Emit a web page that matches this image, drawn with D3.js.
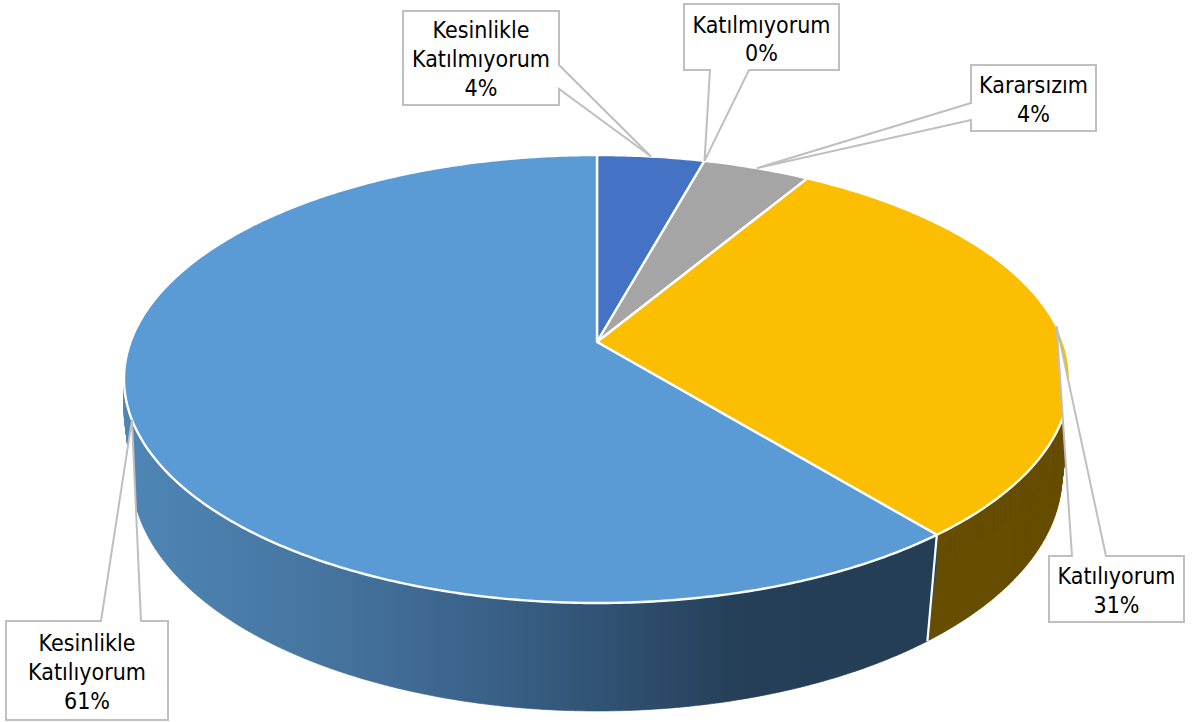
<!DOCTYPE html>
<html><head><meta charset="utf-8">
<script src="https://cdn.jsdelivr.net/npm/d3@7"></script>
<style>html,body{margin:0;background:#fff}svg{display:block}
text{font-family:"DejaVu Sans";font-stretch:condensed;font-size:23px;fill:#000;text-anchor:middle}</style>
</head><body><svg id="c" width="1192" height="722"></svg>
<script>
const categories=["Kesinlikle Katılmıyorum","Katılmıyorum","Kararsızım","Katılıyorum","Kesinlikle Katılıyorum"];
const values=[4.3,0,4.3,30.4,60.9];
const percentLabels=["4%","0%","4%","31%","61%"];
const topColors=["#4472C4","#ED7D31","#A5A5A5","#FBBE00","#5B9BD5"];
const sideColors=["#294476","#8E4B1D","#636363","#664D00","url(#sideBlue)"];

const svg=d3.select("#c");
// perspective projection of a disc: centre height, depth factor, horizontal and vertical radii
function disc(cx,cy,k,a,b){
  const X=d3.scaleLinear().domain([-1,1]).range([cx-a,cx+a]);
  const Y=d3.scaleLinear().domain([-1,1]).range([cy-b,cy+b]);
  return t=>{const x=Math.sin(t),y=-Math.cos(t),w=1+k*y;return [X(x/w),Y(y/w)];};
}
const apex=[597,342];
const topP=disc(apex[0],apex[1],-0.1652,466.5,217.9);
const midP=disc(apex[0],apex[1]+30,-0.1652,466.5,217.9);
const botP=disc(apex[0],439.6,-0.15,459.7,230.7);

const pie=d3.pie().sort(null).value(d=>d)(values);
const line=d3.line();
const samples=(a,b)=>{const n=Math.max(2,Math.ceil((b-a)/0.01));return d3.range(n+1).map(i=>a+(b-a)*i/n);};

const grad=svg.append("defs").append("linearGradient").attr("id","sideBlue")
  .attr("gradientUnits","userSpaceOnUse").attr("x1",125).attr("x2",930).attr("y1",0).attr("y2",0);
[[0,"#4F86B5"],[0.255,"#45749F"],[0.5,"#375C82"],[0.77,"#243F57"],[1,"#233E55"]]
  .forEach(([o,c])=>grad.append("stop").attr("offset",o).attr("stop-color",c));

// sides: each small step of the rim is its own quad, so overlaps cannot cancel
const sides=svg.append("g");
pie.forEach((s,i)=>{
  if(s.value===0) return;
  const a=samples(s.startAngle,s.endAngle);
  let d="";
  [[topP,midP],[midP,botP]].forEach(([p,q])=>{
    d3.pairs(a).forEach(([u,v])=>{
      const quad=[p(u),p(v),q(v),q(u)];
      if(d3.polygonArea(quad)<0) quad.reverse();
      d+=line(quad)+"Z";
    });
  });
  sides.append("path").attr("d",d).attr("fill",sideColors[i]).attr("stroke",sideColors[i]).attr("stroke-width",0.6);
});
const seam=pie[3].endAngle;
sides.append("path").attr("d",line([topP(seam),botP(seam)])).attr("stroke","#fff").attr("stroke-width",2.2).attr("fill","none");
// top
const tops=svg.append("g");
pie.forEach((s,i)=>{
  if(s.value===0) return;
  const pts=[apex].concat(samples(s.startAngle,s.endAngle).map(topP));
  tops.append("path").attr("d",line(pts)+"Z").attr("fill",topColors[i]).attr("stroke","#fff").attr("stroke-width",2.4).attr("stroke-linejoin","round");
});

// callouts: box rectangle, two wedge attachment points, line centres
const boxes=[
 {l:403,r:559,t:11,b:105,a:[[559,65],[559,89]],side:"r",lines:[30,59,88]},
 {l:684,r:839,t:4,b:70,a:[[710,70],[749,70]],side:"b",lines:[25,53]},
 {l:971,r:1096,t:65,b:131,a:[[971,103],[971,120]],side:"l",lines:[85,114]},
 {l:1049,r:1184,t:556,b:622,a:[[1072,556],[1106,556]],side:"t",lines:[576,605]},
 {l:6,r:168,t:621,b:720,a:[[101,621],[141,621]],side:"t",lines:[643,672,701]}
];
const lineTexts=[["Kesinlikle","Katılmıyorum"],["Katılmıyorum"],["Kararsızım"],["Katılıyorum"],["Kesinlikle","Katılıyorum"]];
const g=svg.append("g");
pie.forEach((s,i)=>{
  const b=boxes[i],tip=topP((s.startAngle+s.endAngle)/2),[p,q]=b.a;
  const tl=[b.l,b.t],tr=[b.r,b.t],br=[b.r,b.b],bl=[b.l,b.b];
  const poly={r:[tl,tr,p,tip,q,br,bl],b:[tl,tr,br,q,tip,p,bl],l:[tl,tr,br,bl,q,tip,p],t:[tl,p,tip,q,tr,br,bl]}[b.side];
  g.append("path").attr("d",line(poly)+"Z").attr("fill","#fff").attr("stroke","#BFBFBF").attr("stroke-width",2);
  lineTexts[i].concat(percentLabels[i]).forEach((t,j)=>
    g.append("text").attr("x",(b.l+b.r)/2).attr("y",b.lines[j]).attr("dy","0.36em").text(t));
});
</script></body></html>
